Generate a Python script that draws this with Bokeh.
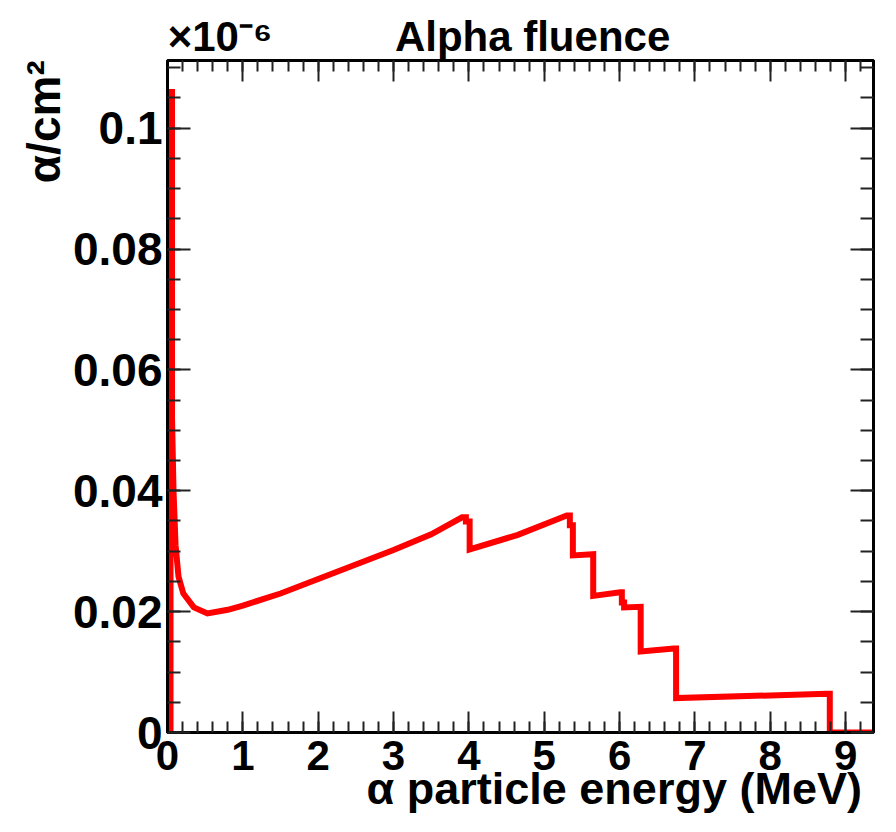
from bokeh.plotting import figure
from bokeh.models import (ColumnDataSource, Range1d, LinearAxis, SingleIntervalTicker,
                          CustomJSTickFormatter)
from bokeh.embed import file_html
from bokeh.resources import INLINE

# ---- data (vertices of the histogram outline) ----
energy_mev = [0.04, 0.04, 0.06, 0.06, 0.08, 0.107, 0.146, 0.21, 0.35, 0.53, 0.8, 1.0, 1.5,
              2.0, 2.5, 3.0, 3.5, 3.91, 3.96, 3.96, 4.01, 4.01, 4.65, 5.30, 5.34, 5.34,
              5.38, 5.38, 5.65, 5.65, 6.01, 6.03, 6.03, 6.06, 6.06, 6.28, 6.28, 6.72,
              6.75, 6.75, 8.75, 8.79, 8.79, 9.37]
fluence = [0.0, 0.106, 0.106, 0.052, 0.040, 0.031, 0.0258, 0.0230, 0.0207, 0.0197, 0.0203,
           0.0210, 0.0230, 0.0254, 0.0278, 0.0302, 0.0328, 0.0356, 0.0356, 0.0349, 0.0349,
           0.0303, 0.0327, 0.0359, 0.0359, 0.0343, 0.0343, 0.0293, 0.0295, 0.0226, 0.0232,
           0.0232, 0.0215, 0.0215, 0.0207, 0.0208, 0.0134, 0.0139, 0.0139, 0.0057, 0.0064,
           0.0064, 0.0, 0.0]

NBSP = "\u00a0"
title_text = "Alpha fluence"
scale_text = "\u00d710\u207b\u2076"          # x10^-6
x_title = "\u03b1 particle energy (MeV)"
y_title = "\u03b1/cm\u00b2"

x_min, x_max = 0.0, 9.37
y_min, y_max = 0.0, 0.1112

# ---- layout ----
W, H = 880, 816
FL, FT, FW, FH = 167, 60, 706, 678
FONT = "Liberation Sans"

p = figure(width=W, height=H, output_backend="svg", toolbar_location=None,
           x_range=Range1d(x_min, x_max), y_range=Range1d(y_min, y_max),
           min_border_left=FL, min_border_top=FT,
           min_border_right=W - FL - FW, min_border_bottom=H - FT - FH)
p.grid.visible = False
p.outline_line_color = "black"
p.outline_line_width = 3
p.background_fill_color = "white"
p.border_fill_color = "white"

src = ColumnDataSource(dict(x=energy_mev, y=fluence))
p.line("x", "y", source=src, line_color="#ff0000", line_width=6, line_join="miter")

xt = SingleIntervalTicker(interval=1, num_minor_ticks=5)
yt = SingleIntervalTicker(interval=0.02, num_minor_ticks=4)
yfmt = CustomJSTickFormatter(code="return Number(tick.toFixed(3)).toString();")
blank = CustomJSTickFormatter(code="return '';")
# top axis carries the "x10^-6" factor (at tick 0) and the title (at tick 5)
top_fmt = CustomJSTickFormatter(
    args=dict(scale=NBSP * 9 + scale_text, title=title_text + NBSP * 2),
    code="if (Math.abs(tick) < 1e-9) return scale; "
         "if (Math.abs(tick - 5) < 1e-9) return title; return '';")


def style_common(ax, tick_major, tick_minor):
    ax.axis_line_color = "black"
    ax.axis_line_width = 3
    ax.major_tick_in = tick_major
    ax.major_tick_out = 0
    ax.minor_tick_in = tick_minor
    ax.minor_tick_out = 0
    ax.major_tick_line_color = "#222222"
    ax.minor_tick_line_color = "#222222"
    ax.major_tick_line_width = 2
    ax.minor_tick_line_width = 2


def style_labels(ax, size, standoff):
    ax.major_label_text_font = FONT
    ax.major_label_text_font_style = "bold"
    ax.major_label_text_font_size = size
    ax.major_label_text_color = "black"
    ax.major_label_standoff = standoff


def style_title(ax, text, size, standoff):
    ax.axis_label = text
    ax.axis_label_text_font = FONT
    ax.axis_label_text_font_style = "bold"
    ax.axis_label_text_font_size = size
    ax.axis_label_text_color = "black"
    ax.axis_label_standoff = standoff
    if "axis_label_align" in ax.properties():
        ax.axis_label_align = "center"


bx = p.xaxis[0]
bx.ticker = xt
style_common(bx, 21, 11)
style_labels(bx, "42px", 8)
# leading no-break spaces push the centred title towards the right end, as in the original
style_title(bx, NBSP * 15 + x_title, "45px", -10)

ly = p.yaxis[0]
ly.ticker = yt
ly.formatter = yfmt
style_common(ly, 23, 13)
style_labels(ly, "46px", 5)
# leading no-break spaces push the centred title up to the top of the axis
style_title(ly, NBSP * 43 + y_title, "46px", 0)

top_ax = LinearAxis(ticker=xt, formatter=top_fmt)
style_common(top_ax, 21, 11)
style_labels(top_ax, "42px", 1)
p.add_layout(top_ax, "above")

right_ax = LinearAxis(ticker=yt, formatter=blank)
style_common(right_ax, 23, 13)
right_ax.major_label_standoff = 0
right_ax.major_label_text_font_size = "2px"
p.add_layout(right_ax, "right")

open("out.html", "w").write(file_html(p, INLINE))
